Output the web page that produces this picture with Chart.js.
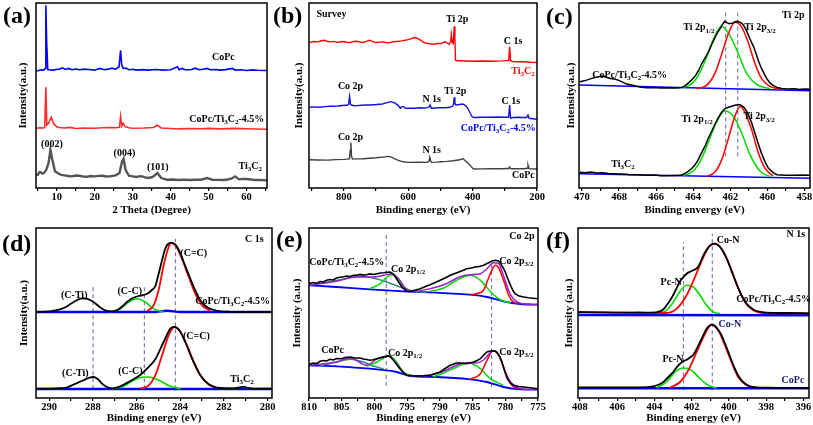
<!DOCTYPE html>
<html>
<head>
<meta charset="utf-8">
<title>CoPc/Ti3C2 XRD and XPS</title>
<script src="https://cdn.jsdelivr.net/npm/chart.js@4.4.1/dist/chart.umd.min.js"></script>
<style>
  body { margin: 0; background: #fff; }
  #fig { position: relative; width: 813px; height: 425px; overflow: hidden; background: #fff; }
  #fig canvas { position: absolute; }
  .tag { position: absolute; font: bold 24px "Liberation Serif", "Times New Roman", serif; line-height: 1; color: #000; }
</style>
</head>
<body>
<div id="fig">
  <canvas id="pa" width="253" height="217" style="left:17px;top:0px"></canvas>
  <canvas id="pb" width="257" height="217" style="left:293px;top:0px"></canvas>
  <canvas id="pc" width="248" height="217" style="left:565px;top:0px"></canvas>
  <canvas id="pd" width="267" height="200" style="left:18px;top:225px"></canvas>
  <canvas id="pe" width="260" height="200" style="left:291px;top:225px"></canvas>
  <canvas id="pf" width="249" height="200" style="left:563px;top:225px"></canvas>
  <div class="tag" style="left:3px;top:3px">(a)</div>
  <div class="tag" style="left:273px;top:3px">(b)</div>
  <div class="tag" style="left:546px;top:4px">(c)</div>
  <div class="tag" style="left:2px;top:231px">(d)</div>
  <div class="tag" style="left:276px;top:227px">(e)</div>
  <div class="tag" style="left:546px;top:228px">(f)</div>
</div>
<script>
// ---------- (a) XRD, x = 2 theta ----------
const aMajor = [10, 20, 30, 40, 50, 60];
const aMinor = [5, 15, 25, 35, 45, 55, 65];
const aCoPc = [[4.6,117.5],[5.0,117.7],[5.8,118.6],[6.5,118.3],[6.9,120],[7.1,183.3],[7.3,148],[7.6,119],[8.3,118.6],[9,118.3],[9.8,119],[10.6,119.3],[11.5,120.5],[12.3,119],[13,120],[14,118.7],[15,119.5],[16,118.7],[17.2,119.3],[18.5,119],[20,118.3],[21.3,120],[22.5,118.7],[23.5,119.3],[24.5,120.3],[25.5,119.3],[26.4,121.7],[26.8,138.3],[27.1,123.3],[27.5,120],[28.2,120.3],[29,118.7],[30,119.2],[31,118.3],[32.5,118.8],[34,118.3],[36,118.9],[38,118.3],[40,118.7],[41.8,121.7],[42.2,118.8],[43,120],[44,118.5],[45.5,119],[46.5,120.3],[47.5,118.7],[48.5,119.2],[49.5,120],[50.5,118.7],[52,119],[53,118.3],[54.5,118.8],[56.3,120],[57,118.3],[58.5,118.7],[60,118],[61.5,118.6],[63,118.2],[65.4,118]];
const aComposite = [[4.6,60],[5.5,60.4],[6.4,60.2],[6.8,60.7],[7.1,101],[7.35,63.3],[7.8,65],[8.5,71],[9.2,64.3],[10,61.5],[10.5,60.7],[12,60.3],[13.5,60.8],[15,59.7],[17,60.2],[20,60],[22,60.5],[24,60.7],[25.5,60.5],[26.5,61],[26.8,71.7],[27.1,62.3],[27.5,65],[28,61.7],[29,60.5],[30,60],[33,60.2],[35.5,60.7],[36.5,63],[37.5,60.3],[40,59.8],[42,59.3],[45,59.6],[48,59.4],[50,59.8],[53,59.3],[57,59.8],[60,59.4],[63,59.2],[65.4,59]];
const aTi3C2 = [[4.6,13],[5,13.3],[5.4,16],[5.8,15.7],[6.2,14.5],[6.5,15],[6.9,16.5],[7.2,18.3],[7.8,25],[8.3,38.3],[8.8,28.3],[9.5,16.7],[10.5,14.3],[11.2,13.2],[12,12.7],[13,12],[14,11.7],[15,12.5],[16,12.3],[17,11.4],[18,11.3],[19,12],[20,11.7],[21,12.2],[22,12.3],[23,11.5],[24,11.7],[25,12.4],[25.5,12.7],[26.5,15],[27.2,26.7],[27.6,29.3],[28.1,18.3],[29,12.3],[30,11.7],[31,11],[32,11.9],[32.5,11.7],[33.3,10.6],[34,10],[35,10.8],[35.5,11.7],[36.5,15],[37.5,10],[38.5,9],[39,8.3],[40.5,8.6],[42,8],[43.5,8.4],[45,8],[46.5,8.3],[48,8.3],[49.6,10],[51,8.3],[52.5,8.2],[54,8],[55,8.5],[56,9.3],[57,11.7],[58,8.7],[59,9.2],[60,9],[61,8.6],[62,8],[63.5,8.2],[65.4,7.7]];

// ---------- (b) survey, x = binding energy ----------
const bMajor = [800, 600, 400, 200];
const bMinor = [900, 700, 500, 300];
const bTi3C2 = [[906,146],[895,147],[880,146.7],[870,147.8],[860,148.3],[850,147],[840,146.7],[830,147.2],[820,146],[810,146.8],[800,147],[790,146.2],[780,146],[770,147],[760,147.3],[750,146.6],[740,146],[730,147.2],[720,148.3],[710,147],[700,146],[690,146.4],[680,146.7],[670,146],[660,145.7],[650,146.6],[640,147],[630,147.3],[620,147.7],[610,148.3],[600,149],[590,150],[580,151],[570,150],[562,148.5],[555,146.7],[548,145.6],[540,145],[530,144.7],[520,144.3],[510,145],[500,145],[492,145.8],[485,146.7],[478,145.5],[472,144.3],[468,147],[466,154],[463,146],[460,145],[457,162.3],[455,150],[453,128.3],[448,127.8],[440,127.7],[420,127.5],[400,127.3],[370,127.5],[340,127.3],[310,127.6],[295,127.9],[288,128],[285,141.7],[282,127.7],[276,127],[270,126.8],[255,126.7],[240,126.7],[220,126.2],[200,126]];
const bComposite = [[906,81],[890,81.4],[875,81],[860,81.7],[840,82],[820,82.3],[805,82.8],[790,83],[785,84],[782,91.7],[779,84],[776,83.3],[768,82.6],[760,82.7],[745,83],[730,83.3],[720,83.3],[705,83.6],[690,84],[680,84.3],[668,85.5],[655,86.7],[645,86],[640,85],[633,83.5],[630,82.3],[624,80],[620,81.7],[614,81.7],[610,80.3],[605,80],[590,80.2],[580,80],[565,80.5],[550,80.3],[540,80.7],[535,81.5],[532,83.3],[528,80],[515,80.3],[500,80.7],[485,80.5],[470,81],[462,82.3],[459,84],[457,91],[455,85],[452,83.3],[445,83.5],[438,84],[428,84],[420,82],[415,80],[408,75.5],[402,71.7],[395,70.8],[390,70.7],[370,71],[340,71],[320,71.2],[300,71],[290,71],[288,72],[285,83.3],[282,70],[275,70.8],[260,71],[245,70.7],[232,70.7],[228,73.3],[224,70],[212,69.5],[200,69]];
const bCoPc = [[906,28.3],[880,28.1],[850,28],[825,28.5],[800,28.7],[790,29],[782,29.3],[780,38],[778,45.7],[776,32],[773,29],[760,29.2],[740,29.3],[720,29.8],[700,30.3],[680,31],[660,31.7],[650,30.8],[640,29],[630,27.8],[620,26.7],[610,26.1],[600,25.7],[570,25.8],[545,25.7],[536,26.5],[533,31],[530,27],[527,25.7],[510,26],[500,26.3],[480,26.7],[460,27.3],[440,28.3],[432,29.3],[428,29],[420,26.7],[412,24],[405,21.7],[398,19.3],[395,19],[370,19.2],[340,19.3],[310,19.3],[290,19.5],[287,20],[285,21],[283,20],[280,19.3],[260,19.3],[240,19.3],[231,19.8],[228,23.3],[225,20],[222,19.3],[200,19]];

// ---------- (c) Ti 2p ----------
const cMajor = [470, 468, 466, 464, 462, 460, 458];
const cMinor = [469, 467, 465, 463, 461, 459];
const cTopRaw = [[470.11,106.7],[469.93,107.5],[469.75,108.3],[469.51,109.8],[469.3,111],[469.09,111.8],[468.85,112.3],[468.68,111.2],[468.47,110],[468.26,109.5],[468.05,108.3],[467.84,106.5],[467.59,104.3],[467.32,103.5],[467.11,102.3],[466.8,101.2],[466.48,100.7],[466.12,100.9],[465.75,100.3],[465.44,100.6],[465.07,100.3],[464.81,100.6],[464.6,101],[464.45,102.5],[464.29,105],[464.08,108.5],[463.87,113],[463.71,118],[463.56,124],[463.35,131],[463.14,138],[462.98,145],[462.83,151],[462.69,156],[462.55,160],[462.43,164],[462.3,167.3],[462.18,166],[462.06,165],[461.94,165.3],[461.83,165.7],[461.73,166.8],[461.61,167.3],[461.49,166.5],[461.36,165],[461.24,162],[461.12,157.7],[460.95,150],[460.74,141.7],[460.61,135],[460.49,128],[460.35,121.5],[460.21,116],[460.04,110],[459.86,105.5],[459.69,103],[459.48,101],[459.22,99.8],[458.96,99.3],[458.54,99.6],[458.23,99],[457.92,99.4],[457.7,99.1]];
const cTopBg = [[470.14,103.3],[457.7,97.6]];
const cTopP12 = [[464.92,100.5],[464.54,101],[464.0,106],[463.64,116],[463.28,131],[462.92,149],[462.47,162.3],[462.02,153],[461.57,135],[461.12,115],[460.58,104],[459.86,99.5]];
const cTopP32 = [[463.82,99.5],[463.28,103],[462.83,115],[462.47,134],[462.1,155],[461.75,166.7],[461.4,162],[461.03,146],[460.67,125],[460.32,110],[459.86,102],[459.32,99.3]];
const cBotRaw = [[470.11,15.7],[469.83,15.2],[469.51,16],[469.2,15],[468.89,15.4],[468.57,14.5],[468.31,14.3],[467.95,14],[467.63,13.7],[467.42,13.3],[467.0,13.4],[466.51,12.7],[466.06,13],[465.75,12.4],[465.44,12.3],[465.02,12.6],[464.71,12.7],[464.5,14],[464.27,16.7],[464.08,19.5],[463.9,23.3],[463.71,29],[463.56,35],[463.35,42.5],[463.19,50],[463.0,57],[462.83,64],[462.65,70.5],[462.47,76],[462.3,79.5],[462.1,81],[461.92,82],[461.75,83],[461.61,83.6],[461.47,83.5],[461.36,82.3],[461.26,81],[461.15,78],[461.03,74],[460.84,65],[460.67,55],[460.5,45],[460.32,35],[460.13,26.5],[459.95,20],[459.69,15.5],[459.48,13.3],[459.06,12.8],[458.62,12.7],[458.12,13],[457.7,12.8]];
const cBotBg = [[470.14,14.3],[457.7,9.9]];
const cBotP12 = [[464.54,12.5],[464.0,17],[463.56,29],[463.1,50],[462.74,66],[462.3,77.3],[461.83,72],[461.38,55],[460.95,34],[460.4,17],[459.86,11.5]];
const cBotP32 = [[463.28,11.5],[462.83,16],[462.47,28],[462.1,50],[461.75,72],[461.47,81.7],[461.21,76],[460.84,58],[460.5,36],[460.13,20],[459.69,12]];
const cRefs = [[462.25, 31.7, 179], [461.6, 31.7, 179]];

// ---------- (d) C 1s ----------
const dMajor = [290, 288, 286, 284, 282, 280];
const dMinor = [289, 287, 285, 283, 281];
const dTopRaw = [[290.6,86],[289.94,86.7],[289.64,87.8],[289.33,90],[288.95,95],[288.75,97.5],[288.57,99.3],[288.38,99.6],[288.19,98.7],[288.0,96.5],[287.81,93.3],[287.62,90],[287.43,87.7],[287.12,86.7],[286.97,87.2],[286.82,88.7],[286.63,92],[286.44,96],[286.25,99],[286.05,101],[285.9,102],[285.75,102.7],[285.6,103.5],[285.44,105.3],[285.3,108],[285.14,112],[284.99,124],[284.83,138],[284.72,147],[284.61,152.7],[284.5,154.8],[284.42,155.3],[284.32,154.8],[284.22,153.3],[284.1,149.5],[283.99,144.3],[283.84,136],[283.69,127.7],[283.53,119],[283.38,111],[283.23,104],[283.08,97.7],[282.9,93],[282.7,90],[282.45,88],[282.16,86.7],[281.7,86.2],[281.25,86],[280.5,86],[279.8,86]];
const dTopCC2 = [[285.52,86.7],[285.22,92.7],[284.99,107.7],[284.76,132.7],[284.53,151],[284.42,155],[284.22,152.7],[283.92,139.3],[283.61,121],[283.31,104.3],[283.0,92.7],[282.62,87]];
const dTopCC = [[287.2,86],[286.74,89.3],[286.36,96],[285.98,99.3],[285.6,96],[285.22,89.3],[284.76,86]];
const dTopBg = [[290.6,86],[285.2,86],[284.6,87.3],[284.0,86],[279.8,86]];
const dBotRaw = [[290.6,9.3],[289.64,9.7],[289.2,10.5],[288.88,13.5],[288.42,17.7],[288.2,20],[287.96,21],[287.75,18.5],[287.58,14.3],[287.35,11],[287.12,9.7],[286.74,11.7],[286.28,17],[285.83,23],[285.52,29.3],[285.14,38.7],[284.76,56],[284.45,69.3],[284.27,71],[284.07,68.7],[283.77,56],[283.46,39.3],[283.08,22.7],[282.7,13.7],[282.16,10],[281.56,9.7],[281.25,10.7],[281.1,11.3],[280.94,10.3],[280.79,9.7],[279.8,9.3]];
const dBotCC2 = [[285.83,9.3],[285.44,12.7],[285.14,22.7],[284.83,42.7],[284.53,62.7],[284.27,71],[283.99,66],[283.69,52.7],[283.38,36],[283.08,22.7],[282.7,13.7],[282.32,10]];
const dBotCC = [[287.05,9.3],[286.59,11.7],[286.13,17.7],[285.75,20.7],[285.52,21],[285.22,20],[284.83,16],[284.45,11.7],[283.99,9.3]];
const dBotCTi = [[281.56,9.7],[281.17,11],[280.79,9.7]];
const dBotBg = [[290.6,9],[279.8,9]];
const dRefs = [[287.99, 8.7, 112], [285.64, 8.7, 112], [284.22, 8.7, 159.3]];

// ---------- (e) Co 2p ----------
const eMajor = [810, 805, 800, 795, 790, 785, 780, 775];
const eMinor = [807.5, 802.5, 797.5, 792.5, 787.5, 782.5, 777.5];
const eTopRaw = [[810.0,114.3],[809.4,115.5],[808.8,114.8],[808.3,116.5],[807.8,116],[807.3,117.7],[806.8,118.5],[806.3,118],[805.8,120],[805.3,120.8],[804.7,121.2],[804.2,122],[803.7,121.5],[803.2,122.8],[802.7,122.7],[802.2,123.6],[801.7,122.9],[801.2,123.3],[800.7,124.1],[800.2,123.5],[799.6,124.3],[799.1,125],[798.6,125.3],[798.1,125.8],[797.6,126],[797.1,124],[796.8,121],[796.3,116],[795.8,111],[795.3,108],[795.05,106.7],[794.5,106.5],[794.0,107.5],[793.0,109.3],[792.2,111.5],[791.5,113.3],[790.7,115.5],[789.95,117.7],[789.2,120],[788.4,122.7],[787.7,124.5],[787.1,126],[786.5,127.6],[785.9,129.3],[785.2,130],[784.6,131],[784.0,131.5],[783.3,132.7],[782.8,134.5],[782.3,136],[781.9,137.3],[781.5,137.7],[781.1,137],[780.8,135.3],[780.4,131],[780.0,126],[779.6,119],[779.2,112.7],[778.8,107],[778.5,104.3],[778.0,102.3],[777.2,101],[776.5,100.2],[775.8,99.8],[775.0,99.3]];
const eTopBg = [[810,112.7],[805.8,111],[800.7,108.7],[795.6,106.7],[790.5,105.3],[785.4,103.3],[782.8,101],[780.3,96.7],[777.7,94],[775,93.3]];
const eTopSat1 = [[810,112.7],[806,117.3],[802.2,121.7],[799.6,119],[797.0,113.3],[794.3,107],[792,105.7]];
const eTopP12 = [[800.7,109.3],[799.1,114.3],[798.1,121],[797.35,123.3],[796.3,118.7],[795.3,110],[794.0,106.7]];
const eTopSat2 = [[791.5,106.7],[789.4,110],[787.4,117.7],[785.36,122.7],[783.8,117.7],[782.3,106.7],[780.8,98.3],[779.2,95.3]];
const eTopP32 = [[785.4,103.3],[784.3,104.5],[783.3,108],[782.8,116],[782.3,124],[781.9,130],[781.5,132.7],[781.0,130],[780.5,122],[780.0,112.7],[779.5,103],[779.0,97.5],[778.2,94.3]];
const eTopFit = [[810,112.7],[805.8,116.7],[802.7,121],[800.2,121],[798.6,122.7],[797.35,124.3],[796.3,119.3],[795.3,110],[794.0,106.7],[791.5,109.3],[789.0,114.3],[787.0,121],[785.4,123.3],[783.8,124.3],[782.8,129.3],[781.8,135.3],[781.0,134.3],[780.3,122.7],[779.2,103.3],[777.96,95.3],[776.2,93.7],[775,93.3]];
const eBotRaw = [[810,33.3],[809.4,35],[808.8,34.5],[808.3,36.7],[807.8,37.5],[807.3,37],[806.8,38.7],[806.3,38],[805.8,39.5],[805.0,39.3],[804.5,40.5],[803.7,41],[803.0,40],[802.2,40],[801.7,39],[801.2,38.5],[800.7,37.7],[800.2,38.3],[799.6,39.3],[799.1,40.2],[798.6,41],[797.9,42],[797.5,41],[797.1,37.7],[796.6,33.5],[796.1,29.3],[795.6,25.5],[795.05,22.7],[794.3,22.2],[793.5,22],[792.5,22.2],[791.5,22.7],[790.7,24.5],[789.95,26],[789.2,29.5],[788.4,32.7],[787.7,34.5],[787.1,35.3],[786.5,34.8],[785.9,34.3],[785.4,35],[784.85,36],[784.3,37.5],[783.8,39.3],[783.3,43],[782.8,46],[782.3,47],[782.0,47.3],[781.6,47],[781.3,46],[780.9,42],[780.5,36],[780.1,27],[779.7,19.3],[779.2,14.5],[778.7,12.7],[778.0,11.5],[777.2,11],[776.2,10.2],[775,9.3]];
const eBotBg = [[810,32.7],[805.8,31.7],[800.7,29.3],[796.6,26],[794.5,22],[790.5,21],[785.4,18.7],[782.8,16],[780.3,11],[777.7,8.7],[775,8.3]];
const eBotSat1 = [[808.3,32.3],[805.8,36],[803.7,38.7],[801.7,36],[800.2,32],[798.6,29.3]];
const eBotP12 = [[801.2,32],[799.6,36],[798.6,40],[797.86,42],[796.84,37.7],[795.56,26],[794.03,22]];
const eBotSat2 = [[791.0,21.3],[789.4,25],[787.4,31],[785.6,35.3],[783.8,29.3],[782.3,19.3],[780.3,12.7]];
const eBotP32 = [[785.4,18.7],[783.8,24.3],[782.8,37.7],[781.89,47.3],[781.0,42.7],[780.0,26],[779.0,12.7],[778.0,9.3]];
const eBotFit = [[810,32.7],[805.8,36],[803.7,40],[801.2,32.7],[799.6,39.3],[797.86,42],[796.6,34.3],[795.05,22.7],[793,22],[791,23.5],[789,28],[787.4,33],[785.6,35.5],[784.6,35],[783.3,38],[782.5,44],[781.9,47.3],[781.0,43.3],[780.0,26],[779.2,16],[778.0,10],[776.5,8.7],[775,8.3]];
const eRefs = [[798.2, 12, 166], [782.1, 11, 137]];

// ---------- (f) N 1s ----------
const fMajor = [408, 406, 404, 402, 400, 398, 396];
const fMinor = [407, 405, 403, 401, 399, 397];
const fTopRaw = [[408.1,86],[407.0,85.6],[405.66,85.3],[404.8,85.5],[404.23,85.3],[403.69,86.7],[403.5,89],[403.34,92.7],[403.16,97.5],[402.98,103.3],[402.8,110],[402.62,116.7],[402.44,121],[402.27,124.3],[402.09,126.2],[401.91,127.7],[401.78,129],[401.64,131.5],[401.5,137],[401.37,142.5],[401.24,147],[401.11,150.5],[400.93,153.7],[400.75,154.3],[400.6,153],[400.48,151],[400.3,146],[400.12,139.3],[399.95,131.5],[399.77,122.7],[399.59,114],[399.41,106],[399.23,99.5],[399.05,94.3],[398.83,90.5],[398.61,87.7],[398.3,86.2],[397.98,85.3],[397.0,85],[395.7,84.7]];
const fTopCoN = [[408.1,85.7],[405.5,85.3],[403.34,85],[402.8,89.3],[402.27,102.7],[401.82,121],[401.37,141],[401.02,152],[400.75,154.3],[400.39,149.3],[400.03,136],[399.59,114.3],[399.14,96],[398.7,87.7],[398.16,85],[395.7,84.7]];
const fTopPcN = [[403.78,84.3],[403.34,87.7],[402.98,96],[402.62,106.7],[402.27,112.7],[401.91,111],[401.55,102.7],[401.2,92.7],[400.84,86],[400.48,84.3]];
const fTopBg = [[408.1,83],[395.7,82.7]];
const fBotRaw = [[408.1,10.7],[406.5,10.7],[404.76,10.7],[404.05,11.7],[403.75,13.5],[403.51,16],[403.3,20],[403.07,24.3],[402.89,28.5],[402.71,32.7],[402.57,35],[402.44,36.7],[402.3,38],[402.18,39.3],[402.05,41],[401.91,43.3],[401.73,49],[401.55,56],[401.37,63],[401.2,69.3],[401.06,72],[400.93,73.3],[400.84,73.2],[400.75,72],[400.57,68],[400.39,62.7],[400.21,54.5],[400.03,46],[399.86,37.5],[399.68,29.3],[399.5,22.5],[399.32,17.7],[399.1,14],[398.88,11.7],[398.5,10.6],[397.98,10.3],[396.8,10.1],[395.7,10]];
const fBotCoN = [[403.16,10.3],[402.62,16],[402.18,27.7],[401.73,46],[401.28,64.3],[400.93,73.3],[400.57,67.7],[400.21,52.7],[399.86,36],[399.5,21],[399.05,12.7],[398.52,10.3]];
const fBotPcN = [[403.87,10.3],[403.34,16],[402.89,26],[402.44,30],[402.0,27.7],[401.55,19.3],[401.11,12.7],[400.66,10]];
const fBotBg = [[408.1,9.7],[395.7,9.7]];
const fRefs = [[402.44, 7.7, 156], [400.89, 7.7, 164.3]];

// ---------- drawing ----------
const serif = '"Liberation Serif", "Times New Roman", serif';
Chart.defaults.font.family = serif;
Chart.defaults.font.weight = 'bold';
Chart.defaults.font.size = 10.5;
Chart.defaults.color = '#000';

const BLK = '#000000', RED = '#ff0000', GRN = '#00dd00', BLU = '#0000ff', PUR = '#9a1fd0', TEAL = '#2e8b6e', NAVY = '#1a1a7a';

function trace(arr, color, width, smooth) {
  return {
    data: arr.map(p => ({x: p[0], y: p[1]})),
    showLine: true, borderColor: color, borderWidth: width, pointRadius: 0,
    tension: smooth ? 0.4 : 0, cubicInterpolationMode: smooth ? 'monotone' : 'default'
  };
}
function refLine(r) {
  return {data: [{x: r[0], y: r[1]}, {x: r[0], y: r[2]}], showLine: true,
    borderColor: '#7c80a6', borderWidth: 1.2, borderDash: [4, 3], pointRadius: 0};
}

function xAxis(min, max, major, minor, title, rev, hx) {
  return {
    type: 'linear', min: min, max: max, reverse: rev,
    afterBuildTicks: s => { s.ticks = major.concat(minor).sort((p, q) => p - q).map(v => ({value: v})); },
    afterFit: s => { s.height = hx; s.paddingLeft = 0; s.paddingRight = 0; },
    ticks: {autoSkip: false, maxRotation: 0, minRotation: 0, padding: 0,
      callback: v => major.includes(v) ? String(v) : ''},
    grid: {drawOnChartArea: false, tickLength: 3, color: '#000', lineWidth: 1.2},
    border: {display: false},
    title: {display: true, text: title, padding: 0, font: {size: 11, weight: 'bold'}}
  };
}
function yAxis(max, title, wy) {
  return {
    type: 'linear', min: 0, max: max,
    afterFit: s => { s.width = wy; },
    ticks: {display: false}, grid: {display: false}, border: {display: false},
    title: {display: true, text: title, padding: 0, font: {size: 11, weight: 'bold'}}
  };
}

const frame = {
  id: 'frame',
  afterDatasetsDraw(chart) {
    const a = chart.chartArea, c = chart.ctx;
    c.save();
    c.strokeStyle = '#000';
    c.lineWidth = 1.5;
    c.strokeRect(a.left, a.top, a.right - a.left, a.bottom - a.top);
    c.restore();
  }
};

// text with _{...} subscripts
function pieces(t) {
  const out = [], re = /_\{([^}]*)\}/g;
  let last = 0, m;
  while ((m = re.exec(t))) {
    if (m.index > last) out.push([t.slice(last, m.index), false]);
    out.push([m[1], true]);
    last = re.lastIndex;
  }
  if (last < t.length) out.push([t.slice(last), false]);
  return out;
}
function richText(ctx, t, x, y, size, color, align) {
  const parts = pieces(t);
  const big = 'bold ' + size + 'px ' + serif, small = 'bold ' + Math.round(size * 0.7) + 'px ' + serif;
  let w = 0;
  parts.forEach(p => { ctx.font = p[1] ? small : big; w += ctx.measureText(p[0]).width; });
  let cx = align === 'left' ? x : align === 'right' ? x - w : x - w / 2;
  const base = y + size * 0.35;
  ctx.fillStyle = color;
  ctx.textBaseline = 'alphabetic';
  ctx.textAlign = 'left';
  parts.forEach(p => {
    ctx.font = p[1] ? small : big;
    ctx.fillText(p[0], cx, p[1] ? base + size * 0.22 : base);
    cx += ctx.measureText(p[0]).width;
  });
}

const notes = {};
const labels = {
  id: 'labels',
  afterDraw(chart) {
    const list = notes[chart.canvas.id] || [];
    const c = chart.ctx, xs = chart.scales.x, ys = chart.scales.y;
    c.save();
    list.forEach(n => richText(c, n.t, xs.getPixelForValue(n.x), ys.getPixelForValue(n.y), n.s || 10, n.c || BLK, n.a || 'center'));
    c.restore();
  }
};

function panel(id, sets, x, y, list, padRight) {
  notes[id] = list;
  return new Chart(document.getElementById(id), {
    type: 'scatter',
    data: {datasets: sets},
    options: {
      responsive: false, animation: false, devicePixelRatio: 1, events: [],
      layout: {padding: {top: 3, right: padRight, left: 0, bottom: 0}},
      plugins: {legend: {display: false}, tooltip: {enabled: false}},
      scales: {x: x, y: y}
    },
    plugins: [frame, labels]
  });
}

// (a)
panel('pa', [
  trace(aCoPc, '#0000ff', 1.6, false),
  trace(aComposite, '#ff2a2a', 1.6, false),
  trace(aTi3C2, '#555555', 2.4, false)
], xAxis(4.5, 65.4, aMajor, aMinor, '2 Theta (Degree)', false, 29), yAxis(185.7, 'Intensity(a.u.)', 19), [
  {t: 'CoPc', x: 53.9, y: 131.7},
  {t: 'CoPc/Ti_{3}C_{2}-4.5%', x: 54.8, y: 70},
  {t: '(002)', x: 8.7, y: 45},
  {t: '(004)', x: 27.8, y: 35.7},
  {t: '(101)', x: 36.6, y: 21.7},
  {t: 'Ti_{3}C_{2}', x: 61, y: 22.3}
], 3);

// (b)
panel('pb', [
  trace(bTi3C2, '#ff0000', 1.4, false),
  trace(bComposite, '#1010e0', 1.4, false),
  trace(bCoPc, '#404040', 1.4, false)
], xAxis(200, 908, bMajor, bMinor, 'Binding energy (eV)', true, 29), yAxis(185.7, 'Intensity(a.u.)', 16), [
  {t: 'Survey', x: 885, y: 175, a: 'left'},
  {t: 'Ti 2p', x: 448, y: 170},
  {t: 'C 1s', x: 274, y: 148.3},
  {t: 'Ti_{3}C_{2}', x: 207, y: 117.7, c: RED, a: 'right'},
  {t: 'Co 2p', x: 779, y: 103.3},
  {t: 'N 1s', x: 527, y: 90},
  {t: 'Ti 2p', x: 454, y: 98.3},
  {t: 'C 1s', x: 281, y: 88.3},
  {t: 'CoPc/Ti_{3}C_{2}-4.5%', x: 204, y: 60.7, c: BLU, a: 'right'},
  {t: 'Co 2p', x: 779, y: 51.7},
  {t: 'N 1s', x: 527, y: 38.3},
  {t: 'CoPc', x: 207, y: 13.3, a: 'right'}
], 13);

// (c)
panel('pc', [
  trace(cTopRaw, BLK, 1.5, false),
  trace(cTopP32, RED, 1.5, true),
  trace(cTopP12, GRN, 1.5, true),
  trace(cTopBg, BLU, 1.5, false),
  trace(cBotRaw, BLK, 1.5, false),
  trace(cBotP32, RED, 1.5, true),
  trace(cBotP12, GRN, 1.5, true),
  trace(cBotBg, BLU, 1.5, false)
].concat(cRefs.map(refLine)), xAxis(457.7, 470.16, cMajor, cMinor, 'Binding envergy (eV)', true, 29), yAxis(185.7, 'Intensity(a.u.)', 14), [
  {t: 'Ti 2p', x: 458.0, y: 174.3, a: 'right'},
  {t: 'Ti 2p_{1/2}', x: 462.85, y: 161.7, a: 'right'},
  {t: 'Ti 2p_{3/2}', x: 461.24, y: 161.7, a: 'left'},
  {t: 'CoPc/Ti_{3}C_{2}-4.5%', x: 467.43, y: 114.3},
  {t: 'Ti 2p_{1/2}', x: 462.94, y: 70, a: 'right'},
  {t: 'Ti 2p_{3/2}', x: 461.29, y: 72.3, a: 'left'},
  {t: 'Ti_{3}C_{2}', x: 467.79, y: 24.3}
], 3);

// (d)
panel('pd', [
  trace(dTopRaw, BLK, 1.8, true),
  trace(dTopCC2, RED, 1.8, true),
  trace(dTopCC, GRN, 1.6, true),
  trace(dTopBg, BLU, 2.4, true),
  trace(dBotRaw, BLK, 1.8, true),
  trace(dBotCC2, RED, 1.8, true),
  trace(dBotCC, GRN, 1.6, true),
  trace(dBotCTi, GRN, 1.6, true),
  trace(dBotBg, BLU, 2.4, false)
].concat(dRefs.map(refLine)), xAxis(279.8, 290.6, dMajor, dMinor, 'Binding energy (eV)', true, 27), yAxis(170, 'Intensity(a.u.)', 18), [
  {t: 'C 1s', x: 280.61, y: 159.3},
  {t: '(C=C)', x: 283.38, y: 146},
  {t: '(C-C)', x: 286.31, y: 107.7},
  {t: '(C-Ti)', x: 288.85, y: 103.3},
  {t: 'CoPc/Ti_{3}C_{2}-4.5%', x: 281.6, y: 97.7},
  {t: '(C=C)', x: 283.26, y: 62.7},
  {t: '(C-C)', x: 286.28, y: 27.7},
  {t: '(C-Ti)', x: 288.8, y: 25.3},
  {t: 'Ti_{3}C_{2}', x: 281.17, y: 19.3}
], 13);

// (e)
panel('pe', [
  trace(eTopRaw, BLK, 1.6, false),
  trace(eTopFit, PUR, 1.5, true),
  trace(eTopP32, RED, 1.5, true),
  trace(eTopSat2, GRN, 1.5, true),
  trace(eTopP12, GRN, 1.5, true),
  trace(eTopSat1, TEAL, 1.5, true),
  trace(eTopBg, BLU, 1.8, true),
  trace(eBotRaw, BLK, 1.6, false),
  trace(eBotFit, PUR, 1.5, true),
  trace(eBotP32, RED, 1.5, true),
  trace(eBotSat2, GRN, 1.5, true),
  trace(eBotP12, GRN, 1.5, true),
  trace(eBotSat1, TEAL, 1.5, true),
  trace(eBotBg, BLU, 1.8, true)
].concat(eRefs.map(refLine)), xAxis(775, 810, eMajor, eMinor, 'Binding energy (eV)', true, 27), yAxis(170, 'Intensity (a.u.)', 18), [
  {t: 'Co 2p', x: 777.45, y: 162.7},
  {t: 'CoPc/Ti_{3}C_{2}-4.5%', x: 804.23, y: 136.7},
  {t: 'Co 2p_{1/2}', x: 794.85, y: 129.3},
  {t: 'Co 2p_{3/2}', x: 778.3, y: 137.7},
  {t: 'CoPc', x: 806.4, y: 48.7},
  {t: 'Co 2p_{1/2}', x: 795.3, y: 46},
  {t: 'Co 2p_{3/2}', x: 778.3, y: 47}
], 13);

// (f)
panel('pf', [
  trace(fTopRaw, BLK, 1.8, true),
  trace(fTopCoN, RED, 1.8, true),
  trace(fTopPcN, GRN, 1.6, true),
  trace(fTopBg, BLU, 2.4, false),
  trace(fBotRaw, BLK, 1.8, true),
  trace(fBotCoN, RED, 1.8, true),
  trace(fBotPcN, GRN, 1.6, true),
  trace(fBotBg, BLU, 2.4, false)
].concat(fRefs.map(refLine)), xAxis(395.7, 408.1, fMajor, fMinor, 'Binding energy (eV)', true, 27), yAxis(170, 'Intensity (a.u.)', 15), [
  {t: 'N 1s', x: 396.41, y: 164.3},
  {t: 'Co-N', x: 400.04, y: 158.3},
  {t: 'Pc-N', x: 403.1, y: 116.7},
  {t: 'CoPc/Ti_{3}C_{2}-4.5%', x: 397.6, y: 100},
  {t: 'Co-N', x: 399.95, y: 74.3, c: NAVY},
  {t: 'Pc-N', x: 403.0, y: 40},
  {t: 'CoPc', x: 396.56, y: 18.7, c: NAVY}
], 3);
</script>
</body>
</html>
